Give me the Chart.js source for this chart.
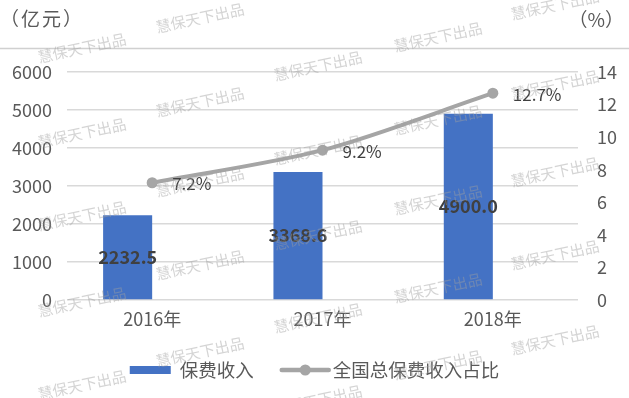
<!DOCTYPE html>
<html>
<head>
<meta charset="utf-8">
<script src="https://cdn.jsdelivr.net/npm/chart.js@4.4.0/dist/chart.umd.min.js"></script>
<style>
  body { margin: 0; background: #fff; }
  #wrap { width: 629px; height: 398px; position: relative; }
</style>
</head>
<body>
<div id="wrap"><canvas id="chart"></canvas></div>
<script>
const categories = ['2016年', '2017年', '2018年'];
const premiumIncome = [2232.5, 3368.6, 4900.0];
const premiumShare = [7.2, 9.2, 12.7];
const seriesNames = ['保费收入', '全国总保费收入占比'];
const unitLabels = ['（亿元）', '（%）'];
const watermarkText = '慧保天下出品';

// watermark centres, column by column
const watermarks = [
    [82, 48], [82, 133], [82, 216], [82, 302], [82, 385],
    [200, 18], [200, 102], [200, 182], [200, 265], [200, 352],
    [318, 66], [318, 150], [318, 235], [318, 318], [318, 400],
    [438, 37], [438, 120], [438, 200], [438, 288], [438, 365],
    [555, 5], [555, 85], [555, 172], [555, 255], [555, 340]
];

const FONT = '"Noto Sans CJK SC", "Noto Sans", sans-serif';
const TEXT = '#595959';
const BAR_COLOR = '#4472C4';
const LINE_COLOR = '#A5A5A5';

const extras = {
    id: 'extras',
    afterDatasetsUpdate(chart) {
        // the original sits each bar just left of the category centre
        chart.getDatasetMeta(1).data.forEach(bar => { bar.x -= bar.width / 2; });
    },
    afterDatasetsDraw(chart) {
        const c = chart.ctx;
        c.save();
        c.fillStyle = '#404040';
        c.textBaseline = 'middle';

        c.font = 'bold 18px ' + FONT;
        c.textAlign = 'center';
        chart.getDatasetMeta(1).data.forEach((bar, i) => {
            c.fillText(premiumIncome[i].toFixed(1), bar.x, (bar.y + bar.base) / 2);
        });

        c.font = '17px ' + FONT;
        c.textAlign = 'left';
        chart.getDatasetMeta(0).data.forEach((pt, i) => {
            c.fillText(premiumShare[i].toFixed(1) + '%', pt.x + 20, pt.y + 1);
        });
        c.restore();
    },
    afterDraw(chart) {
        const c = chart.ctx;
        const w = chart.width;
        c.save();

        // units and the rule under them
        c.fillStyle = TEXT;
        c.font = '19px ' + FONT;
        c.textBaseline = 'middle';
        c.textAlign = 'left';
        c.letterSpacing = '2px';
        c.fillText(unitLabels[0], 0, 19);
        c.letterSpacing = '0px';
        c.textAlign = 'right';
        c.fillText(unitLabels[1], 624, 20);
        c.strokeStyle = '#D0D0D0';
        c.lineWidth = 1.5;
        c.beginPath();
        c.moveTo(0, 48.5);
        c.lineTo(w, 48.5);
        c.stroke();

        // legend
        c.font = '18.5px ' + FONT;
        c.textAlign = 'left';
        const w1 = c.measureText(seriesNames[0]).width;
        const w2 = c.measureText(seriesNames[1]).width;
        const total = 41 + 9 + w1 + 28 + 47 + 4 + w2;
        let x = (w - total) / 2;
        const y = 370;
        c.fillStyle = BAR_COLOR;
        c.fillRect(x, y - 4, 41, 8);
        x += 50;
        c.fillStyle = TEXT;
        c.fillText(seriesNames[0], x, y);
        x += w1 + 28;
        c.strokeStyle = LINE_COLOR;
        c.lineWidth = 4.5;
        c.lineCap = 'round';
        c.beginPath();
        c.moveTo(x, y);
        c.lineTo(x + 47, y);
        c.stroke();
        c.fillStyle = LINE_COLOR;
        c.beginPath();
        c.arc(x + 23.5, y, 5.5, 0, Math.PI * 2);
        c.fill();
        x += 51;
        c.fillStyle = TEXT;
        c.fillText(seriesNames[1], x, y);

        // watermark
        c.font = '15px ' + FONT;
        c.textAlign = 'center';
        c.fillStyle = 'rgba(160,160,160,0.45)';
        watermarks.forEach(([wx, wy]) => {
            c.save();
            c.translate(wx, wy);
            c.rotate(-12 * Math.PI / 180);
            c.fillText(watermarkText, 0, 0);
            c.restore();
        });
        c.restore();
    }
};

const tickFont = { size: 18, family: FONT };
const plainTick = v => String(v);

new Chart(document.getElementById('chart'), {
    data: {
        labels: categories,
        datasets: [{
            type: 'line',
            label: seriesNames[1],
            data: premiumShare,
            yAxisID: 'y2',
            borderColor: LINE_COLOR,
            backgroundColor: LINE_COLOR,
            borderWidth: 4,
            tension: 0.3,
            pointRadius: 5.5,
            pointBackgroundColor: LINE_COLOR,
            pointBorderWidth: 0,
            order: 0
        }, {
            type: 'bar',
            label: seriesNames[0],
            data: premiumIncome,
            yAxisID: 'y',
            backgroundColor: BAR_COLOR,
            barPercentage: 0.288,
            categoryPercentage: 1,
            order: 1
        }]
    },
    options: {
        responsive: true,
        maintainAspectRatio: false,
        animation: false,
        layout: { padding: { top: 72, bottom: 58, left: 0, right: 0 } },
        plugins: {
            legend: { display: false },
            tooltip: { enabled: false }
        },
        scales: {
            x: {
                grid: { display: false, drawTicks: false },
                border: { display: false },
                ticks: { color: TEXT, font: tickFont, padding: 8 },
                afterFit: s => { s.height = 40; }
            },
            y: {
                position: 'left',
                min: 0,
                max: 6000,
                ticks: { stepSize: 1000, color: TEXT, font: tickFont, padding: 15, callback: plainTick },
                grid: { color: '#D9D9D9', lineWidth: 1.5, drawTicks: false },
                border: { display: false },
                afterFit: s => { s.width = 67; }
            },
            y2: {
                position: 'right',
                min: 0,
                max: 14,
                ticks: { stepSize: 2, color: TEXT, font: tickFont, padding: 19, callback: plainTick },
                grid: { display: false, drawTicks: false },
                border: { display: false },
                afterFit: s => { s.width = 51; }
            }
        }
    },
    plugins: [extras]
});
</script>
</body>
</html>
